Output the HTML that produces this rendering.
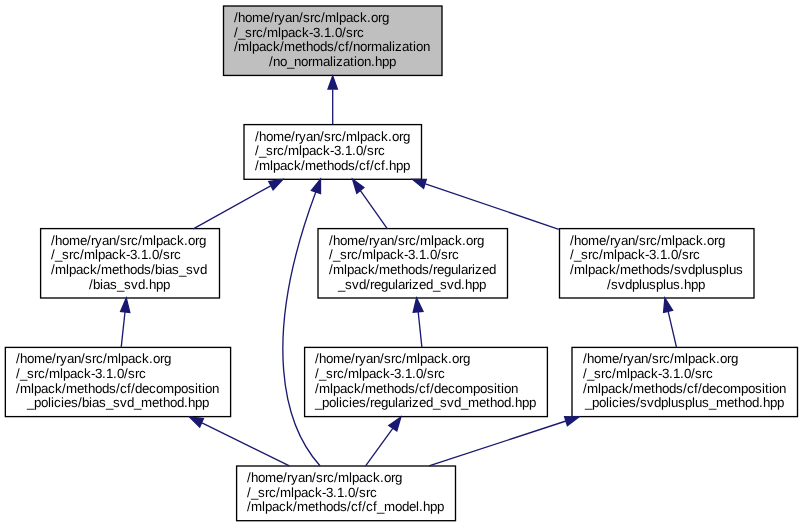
<!DOCTYPE html><html><head><meta charset="utf-8"><style>html,body{margin:0;padding:0;background:#fff;}svg{display:block;will-change:transform;}text{font-family:"Liberation Sans",sans-serif;font-size:13.333px;fill:#000;text-rendering:geometricPrecision;}</style></head><body>
<svg width="803" height="527" viewBox="0 0 803 527">
<rect x="223.50" y="6.00" width="218.50" height="69.45" fill="#bfbfbf" stroke="#000" stroke-width="1.33"/>
<text x="234 238 245 252 263 270 274 278 285 292 299 303 310 314 321 325 336 339 346 353 360 367 371 378 382" y="22">/home/ryan/src/mlpack.org</text>
<text x="234 238 245 252 256 263 267 278 281 288 295 302 309 313 320 324 331 335 342 346 353 357" y="37">/_src/mlpack-3.1.0/src</text>
<text x="234 238 249 252 259 266 273 280 284 295 302 306 313 320 327 334 338 345 349 353 360 367 371 382 389 392 395 402 409 413 416 423" y="51">/mlpack/methods/cf/normalization</text>
<text x="269 273 280 287 294 301 308 312 323 330 333 336 343 350 354 357 364 371 375 382 389" y="66">/no_normalization.hpp</text>
<rect x="244.00" y="124.60" width="177.50" height="54.70" fill="#ffffff" stroke="#000" stroke-width="1.33"/>
<text x="255 259 266 273 284 291 295 299 306 313 320 324 331 335 342 346 357 360 367 374 381 388 392 399 403" y="141">/home/ryan/src/mlpack.org</text>
<text x="255 259 266 273 277 284 288 299 302 309 316 323 330 334 341 345 352 356 363 367 374 378" y="155">/_src/mlpack-3.1.0/src</text>
<text x="255 259 270 273 280 287 294 301 305 316 323 327 334 341 348 355 359 366 370 374 381 385 389 396 403" y="170">/mlpack/methods/cf/cf.hpp</text>
<rect x="40.60" y="228.60" width="178.90" height="69.40" fill="#ffffff" stroke="#000" stroke-width="1.33"/>
<text x="51 55 62 69 80 87 91 95 102 109 116 120 127 131 138 142 153 156 163 170 177 184 188 195 199" y="245">/home/ryan/src/mlpack.org</text>
<text x="51 55 62 69 73 80 84 95 98 105 112 119 126 130 137 141 148 152 159 163 170 174" y="259">/_src/mlpack-3.1.0/src</text>
<text x="51 55 66 69 76 83 90 97 101 112 119 123 130 137 144 151 155 162 165 172 179 186 193 200" y="274">/mlpack/methods/bias_svd</text>
<text x="89 93 100 103 110 117 124 131 138 145 149 156 163" y="289">/bias_svd.hpp</text>
<rect x="318.00" y="228.60" width="189.50" height="69.40" fill="#ffffff" stroke="#000" stroke-width="1.33"/>
<text x="329 333 340 347 358 365 369 373 380 387 394 398 405 409 416 420 431 434 441 448 455 462 466 473 477" y="245">/home/ryan/src/mlpack.org</text>
<text x="329 333 340 347 351 358 362 373 376 383 390 397 404 408 415 419 426 430 437 441 448 452" y="259">/_src/mlpack-3.1.0/src</text>
<text x="329 333 344 347 354 361 368 375 379 390 397 401 408 415 422 429 433 437 444 451 458 461 468 472 475 482 489" y="274">/mlpack/methods/regularized</text>
<text x="338 345 352 359 366 370 374 381 388 395 398 405 409 412 419 426 433 440 447 454 461 465 472 479" y="289">_svd/regularized_svd.hpp</text>
<rect x="559.50" y="228.60" width="194.50" height="69.40" fill="#ffffff" stroke="#000" stroke-width="1.33"/>
<text x="570 574 581 588 599 606 610 614 621 628 635 639 646 650 657 661 672 675 682 689 696 703 707 714 718" y="245">/home/ryan/src/mlpack.org</text>
<text x="570 574 581 588 592 599 603 614 617 624 631 638 645 649 656 660 667 671 678 682 689 693" y="259">/_src/mlpack-3.1.0/src</text>
<text x="570 574 585 588 595 602 609 616 620 631 638 642 649 656 663 670 674 681 688 695 702 705 712 719 726 729 736" y="274">/mlpack/methods/svdplusplus</text>
<text x="607 611 618 625 632 639 642 649 656 663 666 673 680 684 691 698" y="289">/svdplusplus.hpp</text>
<rect x="5.35" y="347.40" width="225.25" height="69.20" fill="#ffffff" stroke="#000" stroke-width="1.33"/>
<text x="16 20 27 34 45 52 56 60 67 74 81 85 92 96 103 107 118 121 128 135 142 149 153 160 164" y="363">/home/ryan/src/mlpack.org</text>
<text x="16 20 27 34 38 45 49 60 63 70 77 84 91 95 102 106 113 117 124 128 135 139" y="378">/_src/mlpack-3.1.0/src</text>
<text x="16 20 31 34 41 48 55 62 66 77 84 88 95 102 109 116 120 127 131 135 142 149 156 163 174 181 188 195 198 202 205 212" y="393">/mlpack/methods/cf/decomposition</text>
<text x="27 34 41 48 51 54 61 64 71 78 82 89 92 99 106 113 120 127 134 141 152 159 163 170 177 184 188 195 202" y="407">_policies/bias_svd_method.hpp</text>
<rect x="304.60" y="347.40" width="242.80" height="69.20" fill="#ffffff" stroke="#000" stroke-width="1.33"/>
<text x="315 319 326 333 344 351 355 359 366 373 380 384 391 395 402 406 417 420 427 434 441 448 452 459 463" y="363">/home/ryan/src/mlpack.org</text>
<text x="315 319 326 333 337 344 348 359 362 369 376 383 390 394 401 405 412 416 423 427 434 438" y="378">/_src/mlpack-3.1.0/src</text>
<text x="315 319 330 333 340 347 354 361 365 376 383 387 394 401 408 415 419 426 430 434 441 448 455 462 473 480 487 494 497 501 504 511" y="393">/mlpack/methods/cf/decomposition</text>
<text x="315 322 329 336 339 342 349 352 359 366 370 374 381 388 395 398 405 409 412 419 426 433 440 447 454 461 468 479 486 490 497 504 511 515 522 529" y="407">_policies/regularized_svd_method.hpp</text>
<rect x="572.00" y="347.40" width="225.50" height="69.20" fill="#ffffff" stroke="#000" stroke-width="1.33"/>
<text x="583 587 594 601 612 619 623 627 634 641 648 652 659 663 670 674 685 688 695 702 709 716 720 727 731" y="363">/home/ryan/src/mlpack.org</text>
<text x="583 587 594 601 605 612 616 627 630 637 644 651 658 662 669 673 680 684 691 695 702 706" y="378">/_src/mlpack-3.1.0/src</text>
<text x="583 587 598 601 608 615 622 629 633 644 651 655 662 669 676 683 687 694 698 702 709 716 723 730 741 748 755 762 765 769 772 779" y="393">/mlpack/methods/cf/decomposition</text>
<text x="585 592 599 606 609 612 619 622 629 636 640 647 654 661 668 671 678 685 692 695 702 709 716 727 734 738 745 752 759 763 770 777" y="407">_policies/svdplusplus_method.hpp</text>
<rect x="236.60" y="466.00" width="218.90" height="54.70" fill="#ffffff" stroke="#000" stroke-width="1.33"/>
<text x="247 251 258 265 276 283 287 291 298 305 312 316 323 327 334 338 349 352 359 366 373 380 384 391 395" y="482">/home/ryan/src/mlpack.org</text>
<text x="247 251 258 265 269 276 280 291 294 301 308 315 322 326 333 337 344 348 355 359 366 370" y="497">/_src/mlpack-3.1.0/src</text>
<text x="247 251 262 265 272 279 286 293 297 308 315 319 326 333 340 347 351 358 362 366 373 377 384 395 402 409 416 419 423 430 437" y="511">/mlpack/methods/cf/cf_model.hpp</text>
<path d="M332.7,124.6 L332.7,89.6" fill="none" stroke="#191970" stroke-width="1.33"/>
<polygon points="332.70,76.00 328.00,89.00 337.40,89.00" fill="#191970" stroke="#191970" stroke-width="1.33"/>
<path d="M193.3,228.8 L270.7,185.8" fill="none" stroke="#191970" stroke-width="1.33"/>
<polygon points="282.80,179.40 268.80,181.60 273.10,189.90" fill="#191970" stroke="#191970" stroke-width="1.33"/>
<path d="M320.2,466.0 C284.3,426.3 260.1,341.4 315.8,192.0" fill="none" stroke="#191970" stroke-width="1.33"/>
<polygon points="320.50,179.20 311.40,190.50 320.50,193.60" fill="#191970" stroke="#191970" stroke-width="1.33"/>
<path d="M387.4,228.8 L360.4,190.6" fill="none" stroke="#191970" stroke-width="1.33"/>
<polygon points="352.60,179.20 356.80,193.40 363.90,187.60" fill="#191970" stroke="#191970" stroke-width="1.33"/>
<path d="M558.8,229.3 L425.4,183.8" fill="none" stroke="#191970" stroke-width="1.33"/>
<polygon points="412.60,179.40 426.30,179.30 423.60,188.30" fill="#191970" stroke="#191970" stroke-width="1.33"/>
<path d="M121.2,347.4 L125.0,312.0" fill="none" stroke="#191970" stroke-width="1.33"/>
<polygon points="126.30,298.00 120.60,311.40 129.80,312.40" fill="#191970" stroke="#191970" stroke-width="1.33"/>
<path d="M421.9,347.4 L418.2,312.0" fill="none" stroke="#191970" stroke-width="1.33"/>
<polygon points="416.60,298.00 413.20,312.20 423.00,311.40" fill="#191970" stroke="#191970" stroke-width="1.33"/>
<path d="M676.5,347.4 L668.2,311.6" fill="none" stroke="#191970" stroke-width="1.33"/>
<polygon points="664.90,298.00 663.60,312.40 672.60,310.20" fill="#191970" stroke="#191970" stroke-width="1.33"/>
<path d="M289.4,465.9 L202.0,422.8" fill="none" stroke="#191970" stroke-width="1.33"/>
<polygon points="189.60,417.00 203.40,418.50 199.70,427.00" fill="#191970" stroke="#191970" stroke-width="1.33"/>
<path d="M365.6,465.9 L392.8,428.4" fill="none" stroke="#191970" stroke-width="1.33"/>
<polygon points="400.90,417.00 388.80,425.60 396.80,431.00" fill="#191970" stroke="#191970" stroke-width="1.33"/>
<path d="M429.0,465.9 L566.0,421.0" fill="none" stroke="#191970" stroke-width="1.33"/>
<polygon points="579.00,416.80 564.60,416.60 567.40,425.60" fill="#191970" stroke="#191970" stroke-width="1.33"/>
</svg></body></html>
